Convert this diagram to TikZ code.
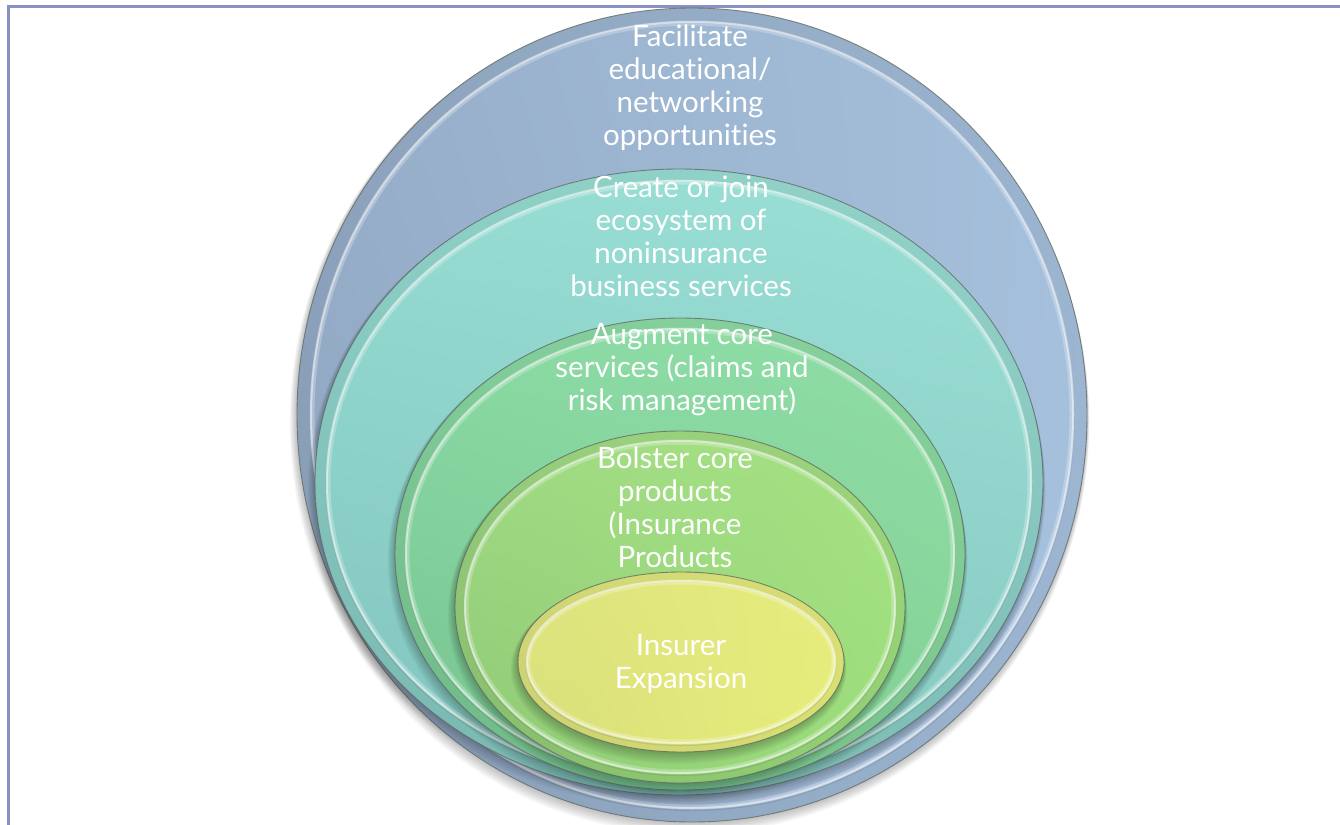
\documentclass[tikz,border=0pt]{standalone}
\usepackage{fontspec}
\setmainfont{Lato}[Ligatures={NoCommon,NoRare,NoContextual}]
\usetikzlibrary{calc,shadings}

\definecolor{framecol}{HTML}{8891C2}
\definecolor{edgecol}{HTML}{5E6660}
% disc colours: upper left, upper right, lower left, lower right
\definecolor{blueA}{HTML}{97AEC9}\definecolor{blueB}{HTML}{A5C0DC}
\definecolor{blueC}{HTML}{8EA5C0}\definecolor{blueD}{HTML}{A7C2DE}
\definecolor{tealA}{HTML}{96DCD2}\definecolor{tealB}{HTML}{9BE0D6}
\definecolor{tealC}{HTML}{80C3BD}\definecolor{tealD}{HTML}{88CAC2}
\definecolor{mintA}{HTML}{8ADAA4}\definecolor{mintB}{HTML}{90DEA6}
\definecolor{mintC}{HTML}{76C290}\definecolor{mintD}{HTML}{84D296}
\definecolor{limeA}{HTML}{A0DA84}\definecolor{limeB}{HTML}{A6E282}
\definecolor{limeC}{HTML}{8EC874}\definecolor{limeD}{HTML}{9CDE7C}
\definecolor{yelA}{HTML}{DEE47E}\definecolor{yelB}{HTML}{E6EC7C}
\definecolor{yelC}{HTML}{D8DE7A}\definecolor{yelD}{HTML}{E8EE7A}

\tikzset{
  lbl/.style={text=white, align=center, font=\fontsize{29.5}{33}\selectfont, inner sep=0pt},
  rimglow/.style={draw=white, draw opacity=0.25, line width=5pt},
  rimlight/.style={draw=white, draw opacity=0.5, line width=2pt},
  rimdark/.style={draw=black, draw opacity=0.08, line width=1.2pt},
  outline/.style={draw=edgecol, draw opacity=0.75, line width=0.9pt},
}

% one bevelled disc: centre x, centre y, x radius, y radius, rim inset, colour prefix
\newcommand\bevellayer[6]{%
  \foreach \k in {1,...,8}
    \fill[black, opacity=0.03] (#1-\k*0.3, #2+\k*0.9) ellipse ({#3+\k*0.6} and {#4+\k*0.6});
  \shade[upper left=#6A, upper right=#6B, lower left=#6C, lower right=#6D]
    (#1,#2) ellipse ({#3} and {#4});
  % slightly darker bevel band along the edge
  \draw[black, draw opacity=0.06, line width=#5] (#1,#2) ellipse ({#3-#5/2} and {#4-#5/2});
  \draw[rimdark] (#1,#2+1.5) ellipse ({#3-#5+1} and {#4-#5+1});
  \draw[rimglow] (#1,#2) ellipse ({#3-#5-1} and {#4-#5-1});
  \draw[rimlight] (#1,#2) ellipse ({#3-#5} and {#4-#5});
  \draw[outline] (#1,#2) ellipse ({#3} and {#4});
}

\begin{document}
\begin{tikzpicture}[x=1pt, y=-1pt]
  \useasboundingbox (0,0) rectangle (1340,824);
  \clip (0,0) rectangle (1340,824);
  \fill[white] (0,0) rectangle (1340,824);

  % page frame, open to the right and bottom
  \draw[framecol, line width=2.2pt] (8.5,6.5) rectangle (1400,900);

  % nested discs, outermost first
  \bevellayer{692}{415}{395}{407}{14}{blue}
  \bevellayer{679}{482}{364}{313}{12}{teal}
  \bevellayer{680}{554}{285}{236}{11}{mint}
  \bevellayer{680}{607}{225}{176}{10}{lime}
  \bevellayer{681}{662}{163}{90}{9}{yel}

  % labels
  \node[lbl] (facilitate) at (690,88) {Facilitate\\educational/\\networking\\opportunities};
  \node[lbl] (ecosystem) at (681,236) {Create or join\\ecosystem of\\noninsurance\\business services};
  \node[lbl] (augment) at (682,370) {Augment core\\services (claims and\\risk management)};
  \node[lbl] (bolster) at (675,507) {Bolster core\\products\\(Insurance\\Products};
  \node[lbl] (insurer) at (681,664) {Insurer\\Expansion};
\end{tikzpicture}
\end{document}
